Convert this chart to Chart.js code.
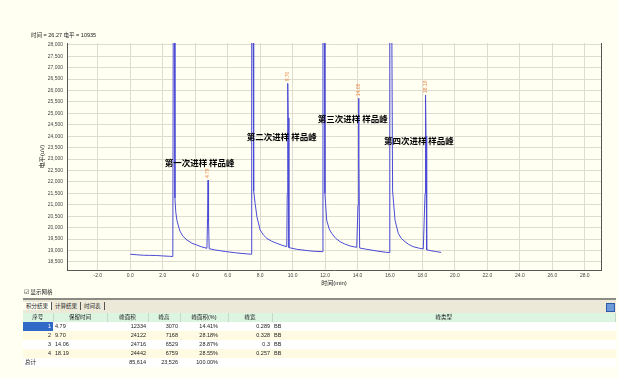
<!DOCTYPE html>
<html>
<head>
<meta charset="utf-8">
<script src="https://cdn.jsdelivr.net/npm/chart.js@4.4.1/dist/chart.umd.min.js"></script>
<style>
  body { margin: 0; width: 640px; height: 386px; overflow: hidden; background: #fff; position: relative;
         font-family: "Liberation Sans", "Noto Sans CJK SC", sans-serif; color: #222; }
  #panel { position: absolute; left: 0; top: 0; width: 618px; height: 378px; background: #fffff2; }
  #wrap { position: absolute; left: 0; top: 0; width: 640px; height: 290px; }
  #showGrid { position: absolute; left: 24px; top: 288px; font-size: 5.5px; line-height: 8px; }
  #tabs { position: absolute; left: 23px; top: 298px; width: 593px; height: 13px; background: #ece9d8;
          border-top: 2px solid #8c8c84; font-size: 5.5px; line-height: 13px; }
  #tabs span { display: inline-block; padding: 0 3px; border-right: 1px solid #555; line-height: 8px; }
  #tabs span.on { background: #fffff2; }
  #icon { position: absolute; right: 1px; top: 3px; width: 7px; height: 7px; background: #6d9ad8; border: 1px solid #2d5aa8; }
  table { position: absolute; left: 23px; top: 313px; width: 593px; border-collapse: collapse; table-layout: fixed;
          font-size: 5.5px; }
  td, th { height: 9px; padding: 0 2px; white-space: nowrap; overflow: hidden; line-height: 9px; }
  th { background: #dcf5e0; font-weight: normal; border-right: 1px solid #c8d8c8; text-align: center; }
  tr.alt td { background: #fffbe2; }
  tr.plain td { background: #fff; }
  td.r { text-align: right; }
  td.sel { background: #3169c6 !important; color: #fff; }
</style>
</head>
<body>
<div id="panel"></div>
<div id="wrap"><canvas id="chromChart" width="640" height="290"></canvas></div>
<div id="showGrid">☑ 显示网格</div>
<div id="tabs"><span class="on">积分结果</span><span>计算结果</span><span>时间表</span><div id="icon"></div></div>
<table id="resultTable">
  <colgroup>
    <col style="width:30px"><col style="width:54px"><col style="width:41px"><col style="width:32px">
    <col style="width:48px"><col style="width:44px"><col>
  </colgroup>
  <thead><tr><th>序号</th><th>保留时间</th><th>峰面积</th><th>峰高</th><th>峰面积(%)</th><th>峰宽</th><th>峰类型</th></tr></thead>
  <tbody></tbody>
</table>
<script>
// chromatogram trace (min, uV)
const times = [
  0.00, 0.40, 0.80, 1.20, 1.60, 2.00, 2.40, 2.62, 2.65, 2.72, 2.75, 2.80, 2.87, 3.00, 3.08, 3.25, 3.49, 3.80,
  4.10, 4.40, 4.72, 4.76, 4.79, 4.82, 4.86, 5.20, 5.85, 6.50, 7.00, 7.45,
  7.48, 7.56, 7.60, 7.69, 7.80, 8.00, 8.20, 8.41, 8.70, 9.03, 9.35, 9.64, 9.67, 9.70, 9.73, 9.77,
  10.26, 11.00, 11.40, 11.84,
  11.87, 11.95, 11.99, 12.10, 12.25, 12.41, 12.65, 12.92, 13.20, 13.54, 13.95, 14.03, 14.06, 14.09, 14.13,
  14.56, 15.20, 15.80, 15.96,
  15.99, 16.10, 16.16, 16.31, 16.51, 16.70, 16.92, 17.15, 17.43, 17.75, 18.05, 18.16, 18.19, 18.22, 18.26,
  18.46, 18.80, 19.15
];
const signal = [
  18840, 18815, 18795, 18790, 18785, 18765, 18750, 18740, 30500, 30500, 21300, 20700, 20330, 19980, 19823, 19620, 19460, 19320,
  19240, 19160, 19100, 20400, 22080, 20300, 19080, 19030, 18960, 18900, 18865, 18840,
  30500, 30500, 21600, 21065, 20480, 19900, 19680, 19535, 19410, 19316, 19230, 19170, 21500, 26310, 24800, 19130,
  19055, 18990, 18965, 18950,
  30500, 30500, 21500, 20330, 19950, 19750, 19540, 19390, 19290, 19200, 19140, 21000, 25660, 23000, 19110,
  19055, 18980, 18920, 18915,
  30500, 30500, 21600, 20330, 19750, 19530, 19390, 19270, 19170, 19110, 19070, 21500, 25800, 24000, 19030,
  19000, 18960, 18920
];

const yTicks = [18500, 19000, 19500, 20000, 20500, 21000, 21500, 22000, 22500, 23000,
                23500, 24000, 24500, 25000, 25500, 26000, 26500, 27000, 27500, 28000];
const xTicks = [-2, 0, 2, 4, 6, 8, 10, 12, 14, 16, 18, 20, 22, 24, 26, 28];

const peakTimes = [4.79, 9.70, 14.06, 18.19];
const peakLabels = ["4.79", "9.70", "14.06", "18.19"];
const injectionNotes = ["第一次进样 样品峰", "第二次进样 样品峰", "第三次进样 样品峰", "第四次进样 样品峰"];

// results table
const rowNo = [1, 2, 3, 4];
const retention = ["4.79", "9.70", "14.06", "18.19"];
const peakArea = [12334, 24122, 24716, 24442];
const peakHeight = [3070, 7168, 6529, 6759];
const areaPct = ["14.41%", "28.18%", "28.87%", "28.55%"];
const peakWidth = ["0.289", "0.328", "0.3", "0.257"];
const peakType = ["BB", "BB", "BB", "BB"];
const totals = ["85,614", "23,526", "100.00%"];

const tbody = document.querySelector("#resultTable tbody");
rowNo.forEach((n, i) => {
  let tr = document.createElement("tr");
  tr.className = i % 2 ? "alt" : "plain";
  tr.innerHTML = '<td class="r' + (i === 0 ? ' sel' : '') + '">' + n + '</td>' +
    '<td>' + retention[i] + '</td>' +
    '<td class="r">' + peakArea[i] + '</td>' +
    '<td class="r">' + peakHeight[i] + '</td>' +
    '<td class="r" style="padding-right:10px">' + areaPct[i] + '</td>' +
    '<td class="r">' + peakWidth[i] + '</td>' +
    '<td>' + peakType[i] + '</td>';
  tbody.appendChild(tr);
});
let totalRow = document.createElement("tr");
totalRow.className = "plain";
totalRow.innerHTML = '<td>总计</td><td></td><td class="r">' + totals[0] + '</td><td class="r">' + totals[1] +
  '</td><td class="r" style="padding-right:10px">' + totals[2] + '</td><td></td><td></td>';
tbody.appendChild(totalRow);

// where the note text sits, in data units
const notePos = [[4.27, 22840], [9.33, 23980], [13.71, 24780], [17.78, 23800]];

const overlays = {
  id: "overlays",
  afterDatasetsDraw(chart) {
    const { ctx, chartArea, scales: { x, y } } = chart;
    ctx.save();
    // frame on the right
    ctx.strokeStyle = "#555";
    ctx.lineWidth = 1;
    ctx.beginPath();
    ctx.moveTo(chartArea.right + 0.5, chartArea.top);
    ctx.lineTo(chartArea.right + 0.5, chartArea.bottom);
    ctx.stroke();

    // retention time labels
    ctx.fillStyle = "#e8894a";
    ctx.font = "5px 'Liberation Sans'";
    ctx.textAlign = "left";
    ctx.textBaseline = "middle";
    peakTimes.forEach((t, i) => {
      const top = signal[times.indexOf(t)];
      ctx.save();
      ctx.translate(x.getPixelForValue(t), y.getPixelForValue(top) - 2);
      ctx.rotate(-Math.PI / 2);
      ctx.fillText(peakLabels[i], 0, 0);
      ctx.restore();
    });

    // injection notes
    ctx.fillStyle = "#000";
    ctx.font = "bold 8.5px 'Noto Sans CJK SC'";
    ctx.textAlign = "center";
    injectionNotes.forEach((txt, i) => {
      ctx.fillText(txt, x.getPixelForValue(notePos[i][0]), y.getPixelForValue(notePos[i][1]));
    });

    // axis titles and readout
    ctx.fillStyle = "#222";
    ctx.font = "6px 'Liberation Sans', 'Noto Sans CJK SC'";
    ctx.fillText("时间(min)", (chartArea.left + chartArea.right) / 2, chartArea.bottom + 13);
    ctx.save();
    ctx.translate(chartArea.left - 25, (chartArea.top + chartArea.bottom) / 2);
    ctx.rotate(-Math.PI / 2);
    ctx.fillText("电平(uV)", 0, 0);
    ctx.restore();
    ctx.textAlign = "left";
    ctx.font = "5.5px 'Liberation Sans', 'Noto Sans CJK SC'";
    ctx.fillText("时间 = 26.27 电平 = 10935", 31, 35);
    ctx.restore();
  }
};

const chromChart = new Chart(document.getElementById("chromChart"), {
  type: "line",
  data: {
    datasets: [{
      data: times.map((t, i) => ({ x: t, y: signal[i] })),
      borderColor: "#4a4ad6",
      borderWidth: 1,
      pointRadius: 0,
      tension: 0,
      fill: false
    }]
  },
  options: {
    responsive: false,
    animation: false,
    devicePixelRatio: 1,
    layout: { padding: { left: 0, top: 43, right: 39, bottom: 0 } },
    plugins: { legend: { display: false }, tooltip: { enabled: false } },
    scales: {
      x: {
        type: "linear",
        min: -3.9,
        max: 29,
        afterFit: s => { s.height = 20; },
        afterBuildTicks: s => { s.ticks = xTicks.map(v => ({ value: v })); },
        border: { color: "#555", width: 1 },
        grid: { color: "#dedcd0", drawTicks: false },
        ticks: {
          autoSkip: false, maxRotation: 0, padding: 3,
          color: "#444", font: { size: 5, family: "Liberation Sans" },
          callback: v => v.toFixed(1)
        }
      },
      y: {
        min: 18150,
        max: 28075,
        afterFit: s => { s.width = 67; },
        afterBuildTicks: s => { s.ticks = yTicks.map(v => ({ value: v })); },
        border: { color: "#555", width: 1 },
        grid: { color: "#dedcd0", drawTicks: false },
        ticks: {
          autoSkip: false, padding: 4,
          color: "#444", font: { size: 5, family: "Liberation Sans" },
          callback: v => v.toLocaleString("en-US")
        }
      }
    }
  },
  plugins: [overlays]
});
</script>
</body>
</html>
